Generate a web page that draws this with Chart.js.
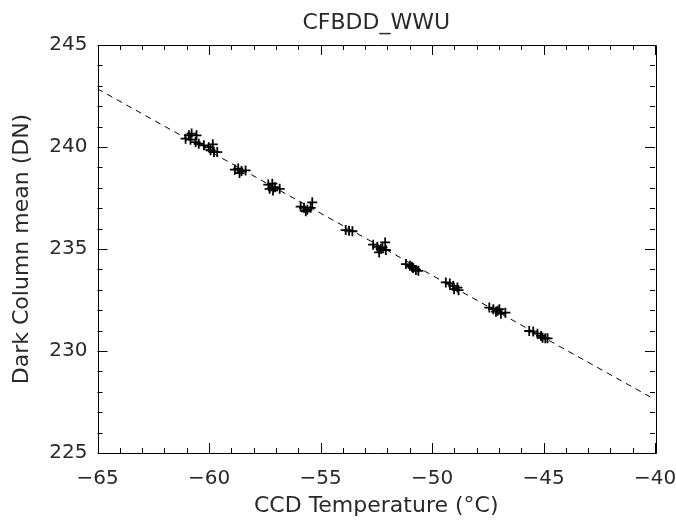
<!DOCTYPE html>
<html>
<head>
<meta charset="utf-8">
<script src="https://cdn.jsdelivr.net/npm/chart.js@4/dist/chart.umd.min.js"></script>
<style>
html,body{margin:0;padding:0;background:#fff;}
#wrap{width:676px;height:523px;}
</style>
</head>
<body>
<div id="wrap"><canvas id="c" width="676" height="523"></canvas></div>
<script>
// ---- data ----
const title = "CFBDD_WWU";
const xTitle = "CCD Temperature (°C)";
const yTitle = "Dark Column mean (DN)";
const xRange = [-65, -40];
const yRange = [225, 245];
const xMajorStep = 5, yMajorStep = 5, minorStep = 1;

const tempC = [
  -61.05,-60.90,-60.78,-60.56,-60.83,-60.60,-60.46,-60.23,-60.01,-59.93,-59.83,-59.78,-59.63,
  -58.84,-58.69,-58.54,-58.36,-58.63,
  -57.34,-57.16,-57.04,-56.83,-57.28,-57.13,
  -55.89,-55.74,-55.59,-55.37,-55.44,-55.66,
  -53.87,-53.72,-53.57,
  -52.64,-52.45,-52.30,-52.37,-52.10,-52.07,-52.22,
  -51.17,-50.99,-50.85,-50.72,-50.61,-50.90,
  -49.38,-49.20,-49.05,-48.86,-48.81,-49.01,
  -47.43,-47.25,-47.06,-46.91,-46.71,-46.98,-47.13,
  -45.64,-45.46,-45.27,-45.11,-44.92,-44.82,-45.04
];
const darkMean = [
  240.41,240.57,240.66,240.57,240.36,240.24,240.16,240.08,239.99,239.84,240.13,239.75,239.75,
  238.89,238.94,238.82,238.85,238.72,
  238.16,238.20,238.03,237.95,237.95,237.87,
  237.08,237.02,236.92,237.29,237.02,236.85,
  235.93,235.90,235.87,
  235.21,235.11,235.00,234.83,235.32,234.95,235.08,
  234.26,234.18,234.07,233.97,233.93,234.13,
  233.36,233.31,233.19,233.11,232.98,233.03,
  232.13,232.05,231.97,231.83,231.88,232.05,231.93,
  230.98,230.95,230.85,230.74,230.62,230.62,230.65
];
const fitX = [-65, -40];
const fitY = [242.85, 227.62];

const FAM = "'DejaVu Sans', sans-serif";
const FS = 20;
const TXT = '#2a2a2a';

const points = tempC.map((t,i)=>({x:t,y:darkMean[i]}));
const fitLine = fitX.map((t,i)=>({x:t,y:fitY[i]}));

const frameTicks = {
  id:'frameTicks',
  afterDatasetsDraw(chart){
    const {ctx, chartArea:a, scales:{x,y}} = chart;
    ctx.save();
    ctx.strokeStyle='#000'; ctx.lineWidth=1;
    ctx.beginPath();
    ctx.rect(Math.round(a.left)+0.5, Math.round(a.top)+0.5, Math.round(a.right-a.left), Math.round(a.bottom-a.top));
    ctx.stroke();
    ctx.beginPath();
    for(let v=xRange[0]; v<=xRange[1]+1e-9; v+=minorStep){
      const px=Math.round(x.getPixelForValue(v))+0.5;
      const L = (Math.abs(v % xMajorStep) < 1e-9) ? 10 : 5;
      ctx.moveTo(px,a.bottom); ctx.lineTo(px,a.bottom-L);
      ctx.moveTo(px,a.top); ctx.lineTo(px,a.top+L);
    }
    for(let v=yRange[0]; v<=yRange[1]+1e-9; v+=minorStep){
      const py=Math.round(y.getPixelForValue(v))+0.5;
      const L = (Math.abs(v % yMajorStep) < 1e-9) ? 10 : 5;
      ctx.moveTo(a.left,py); ctx.lineTo(a.left+L,py);
      ctx.moveTo(a.right,py); ctx.lineTo(a.right-L,py);
    }
    ctx.stroke();
    ctx.restore();
  }
};

new Chart(document.getElementById('c'), {
  type:'scatter',
  data:{datasets:[
    {label:'data', data:points, pointStyle:'cross', pointRadius:5, pointBorderWidth:1.8,
     borderColor:'#000', backgroundColor:'#000', pointHoverRadius:5},
    {label:'fit', type:'line', data:fitLine, borderColor:'#000', borderWidth:1, borderDash:[6,5],
     pointRadius:0, fill:false, tension:0}
  ]},
  options:{
    responsive:false, animation:false, devicePixelRatio:1,
    layout:{padding:{left:0,right:21,top:0,bottom:0}},
    plugins:{
      legend:{display:false}, tooltip:{enabled:false},
      title:{display:true, text:title, fullSize:false, color:TXT,
        font:{family:FAM, size:FS+2, weight:'normal', lineHeight:1.2},
        padding:{top:45-(FS+2)*1.2-9, bottom:9}}
    },
    scales:{
      x:{type:'linear', min:xRange[0], max:xRange[1],
        grid:{display:false, drawTicks:false}, border:{display:false},
        ticks:{stepSize:xMajorStep, color:TXT, padding:14, font:{family:FAM,size:FS},
          callback:(v)=>String(v).replace('-','\u2212'), maxRotation:0},
        title:{display:true, text:xTitle, color:TXT, font:{family:FAM,size:FS+2}, padding:{top:0,bottom:4}},
        afterFit(s){ s.height = 70; s.paddingLeft = 0; s.paddingRight = 0; }
      },
      y:{type:'linear', min:yRange[0], max:yRange[1],
        grid:{display:false, drawTicks:false}, border:{display:false},
        ticks:{stepSize:yMajorStep, color:TXT, padding:10, font:{family:FAM,size:FS}},
        title:{display:true, text:yTitle, color:TXT, font:{family:FAM,size:FS+2}, padding:{top:9,bottom:0}},
        afterFit(s){ s.width = 97.5; s.paddingTop = 0; s.paddingBottom = 0; }
      }
    }
  },
  plugins:[frameTicks]
});
</script>
</body>
</html>
